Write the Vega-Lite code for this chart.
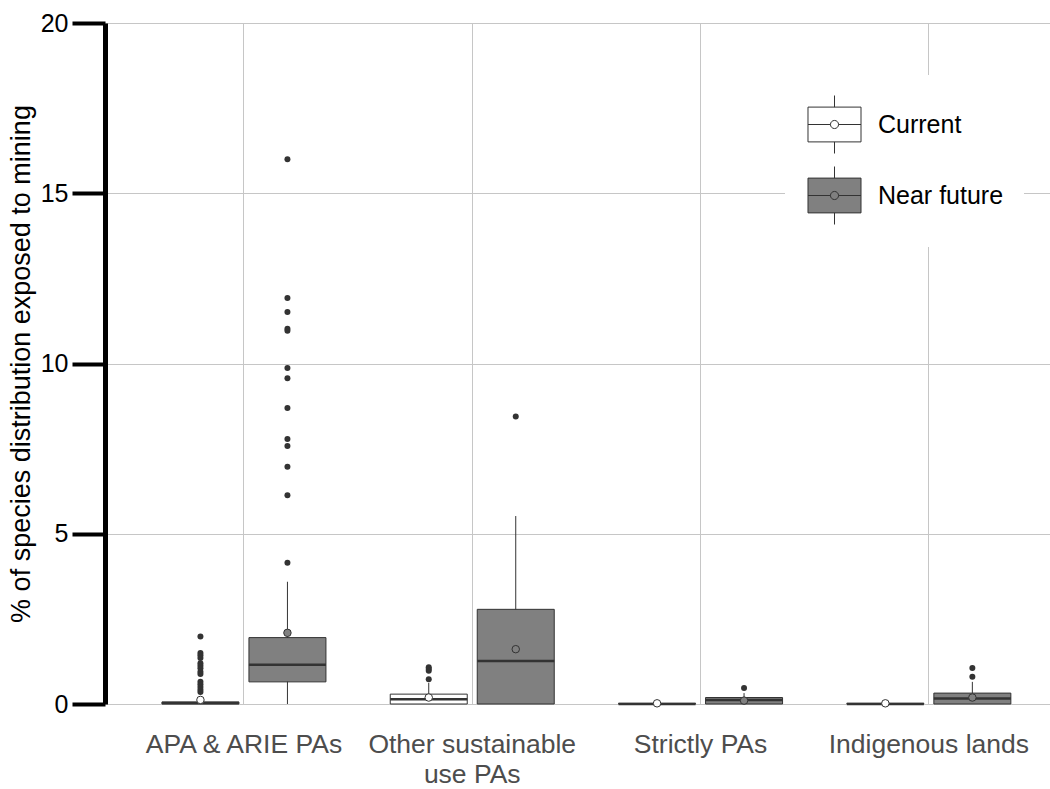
{
  "$schema": "https://vega.github.io/schema/vega-lite/v6.json",
  "width": 945,
  "height": 681,
  "autosize": {"type": "none"},
  "padding": {"left": 105, "top": 23, "right": 0, "bottom": 85},
  "background": "white",
  "config": {
    "view": {"stroke": null},
    "font": "Liberation Sans",
    "axis": {"gridColor": "#c6c6c6", "gridWidth": 1},
    "axisY": {
      "domainColor": "#000000", "domainWidth": 5, "tickColor": "#000000", "tickWidth": 4, "tickSize": 33,
      "labelFontSize": 25, "labelColor": "#000000", "labelPadding": 4, "labelFont": "Liberation Sans",
      "titleFontSize": 27, "titleColor": "#000000", "titleFontWeight": "normal", "titlePadding": 5, "titleFont": "Liberation Sans",
      "tickCount": 5, "grid": true
    }
  },
  "datasets": {
    "stats": [
      {"cat": "APA & ARIE PAs", "period": "Current", "lower": 0, "q1": 0, "median": 0.03, "q3": 0.06, "upper": 0.15, "mean": 0.12},
      {"cat": "APA & ARIE PAs", "period": "Near future", "lower": 0, "q1": 0.65, "median": 1.15, "q3": 1.95, "upper": 3.59, "mean": 2.09},
      {"cat": "Other sustainable use PAs", "period": "Current", "lower": 0, "q1": 0, "median": 0.14, "q3": 0.29, "upper": 0.62, "mean": 0.19},
      {"cat": "Other sustainable use PAs", "period": "Near future", "lower": 0, "q1": 0, "median": 1.26, "q3": 2.78, "upper": 5.52, "mean": 1.61},
      {"cat": "Strictly PAs", "period": "Current", "lower": 0, "q1": 0, "median": 0, "q3": 0.02, "upper": 0.03, "mean": 0.02},
      {"cat": "Strictly PAs", "period": "Near future", "lower": 0, "q1": 0, "median": 0.12, "q3": 0.19, "upper": 0.32, "mean": 0.1},
      {"cat": "Indigenous lands", "period": "Current", "lower": 0, "q1": 0, "median": 0, "q3": 0.02, "upper": 0.03, "mean": 0.02},
      {"cat": "Indigenous lands", "period": "Near future", "lower": 0, "q1": 0, "median": 0.16, "q3": 0.32, "upper": 0.65, "mean": 0.19}
    ],
    "outliers": [
      {"cat": "APA & ARIE PAs", "period": "Current", "value": 1.98},
      {"cat": "APA & ARIE PAs", "period": "Current", "value": 1.5},
      {"cat": "APA & ARIE PAs", "period": "Current", "value": 1.43},
      {"cat": "APA & ARIE PAs", "period": "Current", "value": 1.35},
      {"cat": "APA & ARIE PAs", "period": "Current", "value": 1.2},
      {"cat": "APA & ARIE PAs", "period": "Current", "value": 1.12},
      {"cat": "APA & ARIE PAs", "period": "Current", "value": 1.05},
      {"cat": "APA & ARIE PAs", "period": "Current", "value": 0.95},
      {"cat": "APA & ARIE PAs", "period": "Current", "value": 0.88},
      {"cat": "APA & ARIE PAs", "period": "Current", "value": 0.65},
      {"cat": "APA & ARIE PAs", "period": "Current", "value": 0.58},
      {"cat": "APA & ARIE PAs", "period": "Current", "value": 0.5},
      {"cat": "APA & ARIE PAs", "period": "Current", "value": 0.42},
      {"cat": "APA & ARIE PAs", "period": "Current", "value": 0.35},
      {"cat": "APA & ARIE PAs", "period": "Near future", "value": 16.0},
      {"cat": "APA & ARIE PAs", "period": "Near future", "value": 11.92},
      {"cat": "APA & ARIE PAs", "period": "Near future", "value": 11.51},
      {"cat": "APA & ARIE PAs", "period": "Near future", "value": 11.02},
      {"cat": "APA & ARIE PAs", "period": "Near future", "value": 10.96},
      {"cat": "APA & ARIE PAs", "period": "Near future", "value": 9.87},
      {"cat": "APA & ARIE PAs", "period": "Near future", "value": 9.57},
      {"cat": "APA & ARIE PAs", "period": "Near future", "value": 8.69},
      {"cat": "APA & ARIE PAs", "period": "Near future", "value": 7.78},
      {"cat": "APA & ARIE PAs", "period": "Near future", "value": 7.58},
      {"cat": "APA & ARIE PAs", "period": "Near future", "value": 6.97},
      {"cat": "APA & ARIE PAs", "period": "Near future", "value": 6.13},
      {"cat": "APA & ARIE PAs", "period": "Near future", "value": 4.15},
      {"cat": "Other sustainable use PAs", "period": "Current", "value": 0.73},
      {"cat": "Other sustainable use PAs", "period": "Current", "value": 0.98},
      {"cat": "Other sustainable use PAs", "period": "Current", "value": 1.03},
      {"cat": "Other sustainable use PAs", "period": "Current", "value": 1.08},
      {"cat": "Other sustainable use PAs", "period": "Near future", "value": 8.44},
      {"cat": "Strictly PAs", "period": "Near future", "value": 0.47},
      {"cat": "Indigenous lands", "period": "Near future", "value": 0.8},
      {"cat": "Indigenous lands", "period": "Near future", "value": 1.06}
    ]
  },
  "encoding": {
    "x": {
      "field": "cat", "type": "nominal",
      "sort": ["APA & ARIE PAs", "Other sustainable use PAs", "Strictly PAs", "Indigenous lands"],
      "scale": {"paddingInner": 0, "paddingOuter": 0.0696, "align": 0.78},
      "axis": {
        "title": null, "labelAngle": 0, "labelFontSize": 26.5, "labelColor": "#4d4d4d", "labelFont": "Liberation Sans",
        "ticks": false, "domain": false, "labelPadding": 27, "grid": true, "labelLineHeight": 30, "labelLimit": 400,
        "labelExpr": "datum.label == 'Other sustainable use PAs' ? ['Other sustainable', 'use PAs'] : datum.label"
      }
    },
    "xOffset": {
      "field": "period", "type": "nominal", "sort": ["Current", "Near future"],
      "scale": {"paddingInner": 0, "paddingOuter": 0.312}
    }
  },
  "layer": [
    {
      "data": {"name": "stats"},
      "mark": {"type": "rule", "color": "#333333", "strokeWidth": 1},
      "encoding": {
        "y": {"field": "lower", "type": "quantitative", "title": "% of species distribution exposed to mining", "scale": {"domain": [0, 20], "nice": false}},
        "y2": {"field": "upper"}
      }
    },
    {
      "data": {"name": "stats"},
      "mark": {"type": "bar", "size": 77, "stroke": "#333333", "strokeWidth": 1},
      "encoding": {
        "y": {"field": "q1", "type": "quantitative", "title": "% of species distribution exposed to mining"},
        "y2": {"field": "q3"},
        "fill": {
          "field": "period", "type": "nominal",
          "scale": {"domain": ["Current", "Near future"], "range": ["#ffffff", "#808080"]},
          "legend": {
            "title": null, "orient": "none", "legendX": 680, "legendY": 52, "fillColor": "white",
            "padding": 20, "rowPadding": 8,
            "symbolType": "M-0.914,-0.6H0.914V0.6H-0.914Z M0,-1V-0.6 M0,0.6V1 M-0.914,0H-0.14 M0.14,0H0.914 M0.14,0A0.14,0.14,0,1,1,-0.14,0A0.14,0.14,0,1,1,0.14,0",
            "symbolSize": 3364, "symbolStrokeColor": "#333333", "symbolStrokeWidth": 1, "symbolOpacity": 1,
            "labelFontSize": 25, "labelColor": "#000000", "labelOffset": 14, "labelFont": "Liberation Sans", "labelLimit": 300,
            "encode": {"symbols": {"update": {"stroke": {"value": "#333333"}, "strokeWidth": {"value": 1}}}}
          }
        }
      }
    },
    {
      "data": {"name": "stats"},
      "mark": {"type": "tick", "size": 77, "thickness": 2.5, "color": "#333333", "opacity": 1},
      "encoding": {
        "y": {"field": "median", "type": "quantitative", "title": "% of species distribution exposed to mining"}
      }
    },
    {
      "data": {"name": "outliers"},
      "mark": {"type": "circle", "size": 36, "color": "#333333", "opacity": 1},
      "encoding": {
        "y": {"field": "value", "type": "quantitative", "title": "% of species distribution exposed to mining"}
      }
    },
    {
      "data": {"name": "stats"},
      "mark": {"type": "circle", "size": 56, "stroke": "#333333", "strokeWidth": 1, "opacity": 1},
      "encoding": {
        "y": {"field": "mean", "type": "quantitative", "title": "% of species distribution exposed to mining"},
        "fill": {"condition": {"test": "datum.period === 'Current'", "value": "#ffffff"}, "value": "#808080"}
      }
    }
  ]
}
